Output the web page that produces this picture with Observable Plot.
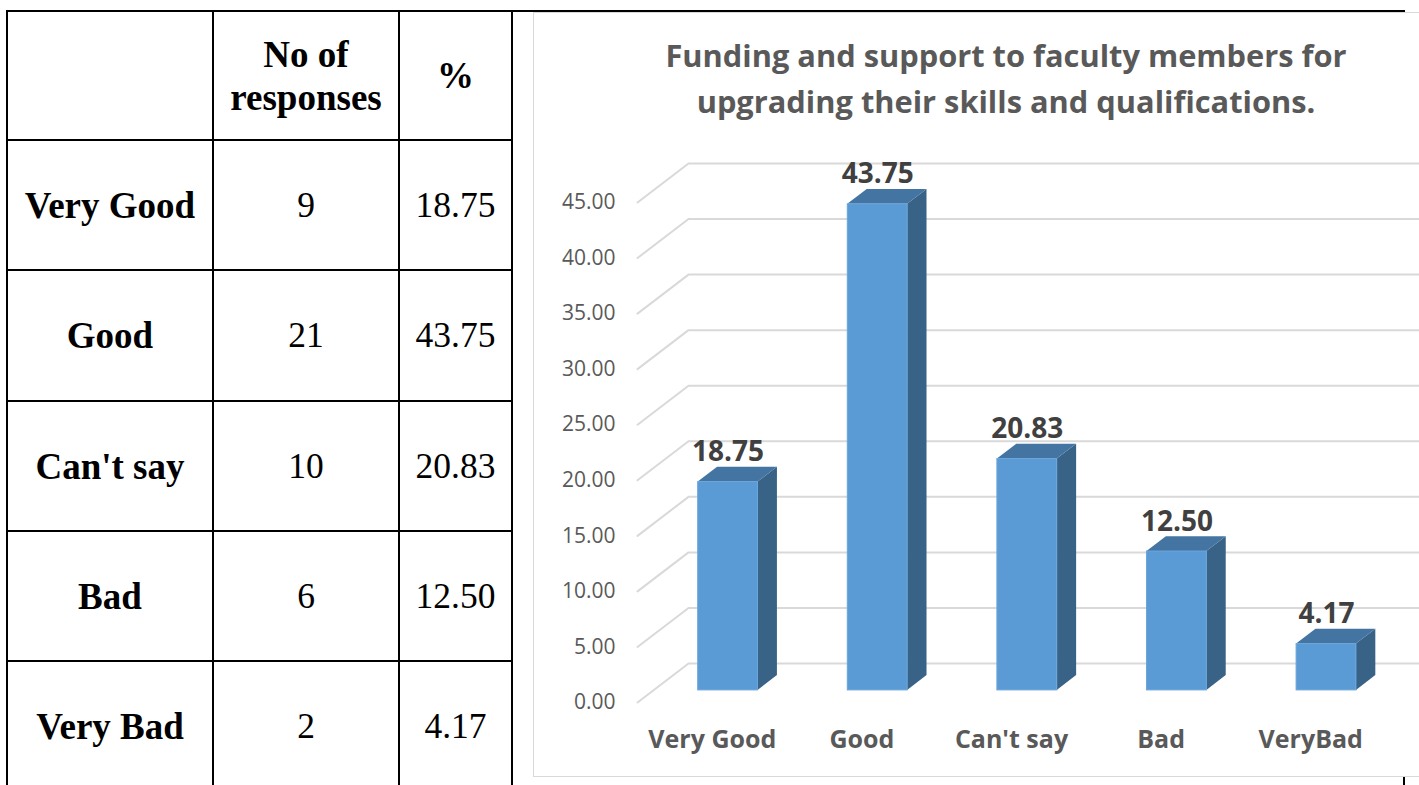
<!DOCTYPE html>
<html>
<head>
<meta charset="utf-8">
<script src="https://cdn.jsdelivr.net/npm/d3@7"></script>
<script src="https://cdn.jsdelivr.net/npm/@observablehq/plot@0.6"></script>
<style>
  html, body { margin: 0; padding: 0; background: #fff; }
  body { width: 1419px; height: 785px; overflow: hidden; position: relative; }
  .cell { position: absolute; box-sizing: border-box; border: 2px solid #000;
          display: flex; align-items: center; justify-content: center; text-align: center;
          font-family: "Liberation Serif", "Times New Roman", serif; font-size: 35.5px; color: #000; line-height: 43px; }
  .cell.b { font-weight: bold; font-size: 37px; }
  #chart { position: absolute; left: 533px; top: 12px; width: 946px; height: 765px;
           box-sizing: border-box; border: 1px solid #d9d9d9; background: #fff; }
  #title { height: 139px; box-sizing: border-box; padding-top: 19px; text-align: center;
           font-family: "Open Sans", sans-serif; font-weight: bold; font-size: 30.8px; line-height: 46px; color: #595959; }
  #plot svg { display: block; }
</style>
</head>
<body>
<div id="table"></div>
<div id="chart">
  <div id="title">Funding and support to faculty members for<br>upgrading their skills and qualifications.</div>
  <div id="plot"></div>
</div>
<script>
// ---- data ----
const tableLabels = ["Very Good", "Good", "Can't say", "Bad", "Very Bad"];
const responses = [9, 21, 10, 6, 2];
const percents = [18.75, 43.75, 20.83, 12.50, 4.17];
const categories = ["Very Good", "Good", "Can't say", "Bad", "VeryBad"];
const yTicks = [0, 5, 10, 15, 20, 25, 30, 35, 40, 45];
const headers = ["", "No of<br>responses", "%"];

// ---- table ----
const colX = [7, 213, 399, 512, 1404];
const rowY = [11, 140, 270, 401, 531, 661, 791];
const tbl = document.getElementById("table");
function cell(c0, c1, r0, r1, html, bold) {
  const d = document.createElement("div");
  d.className = "cell" + (bold ? " b" : "");
  d.style.left = (colX[c0] - 1) + "px";
  d.style.top = (rowY[r0] - 1) + "px";
  d.style.width = (colX[c1] - colX[c0] + 2) + "px";
  d.style.height = (rowY[r1] - rowY[r0] + 2) + "px";
  d.innerHTML = html;
  tbl.appendChild(d);
}
headers.forEach((h, j) => cell(j, j + 1, 0, 1, h, true));
tableLabels.forEach((lab, i) => {
  cell(0, 1, i + 1, i + 2, lab, true);
  cell(1, 2, i + 1, i + 2, String(responses[i]), false);
  cell(2, 3, i + 1, i + 2, percents[i].toFixed(2), false);
});
cell(3, 4, 0, 6, "", false);

// ---- 3D projection constants (depth offsets in scale units) ----
const DX = 0.341, DY = 3.51, Z0 = 0.31, Z1 = 0.69, HW = 0.2;
const bars = percents.map((v, i) => ({ i, v }));
const front = bars.map(d => ({ x1: d.i - HW + DX * Z0, x2: d.i + HW + DX * Z0, y1: DY * Z0, y2: d.v + DY * Z0 }));
const side = bars.flatMap(d => [
  { k: d.i, x: d.i + HW + DX * Z0, y1: DY * Z0, y2: d.v + DY * Z0 },
  { k: d.i, x: d.i + HW + DX * Z1, y1: DY * Z1, y2: d.v + DY * Z1 }
]);
const topFace = bars.flatMap(d => [
  { k: d.i, y: d.v + DY * Z0, x1: d.i - HW + DX * Z0, x2: d.i + HW + DX * Z0 },
  { k: d.i, y: d.v + DY * Z1, x1: d.i - HW + DX * Z1, x2: d.i + HW + DX * Z1 }
]);
const labels = bars.map(d => ({ x: d.i + DX * Z0, y: d.v + DY * Z1, t: d.v.toFixed(2) }));
const x0 = -0.5, xN = categories.length - 0.5;
const grid = yTicks.flatMap(g => [
  { g, x: x0, y: g },
  { g, x: x0 + DX, y: g + DY },
  { g, x: xN + DX, y: g + DY }
]);

const chart = Plot.plot({
  width: 944,
  height: 624,
  marginLeft: 103,
  marginRight: 93,
  marginTop: 50,
  marginBottom: 74,
  x: { domain: [x0, xN], axis: null },
  y: { domain: [0, 45], axis: null },
  style: { fontFamily: "Open Sans, sans-serif", background: "transparent", overflow: "visible" },
  marks: [
    Plot.line(grid, { x: "x", y: "y", z: "g", stroke: "#d9d9d9", strokeWidth: 2 }),
    Plot.axisY({ ticks: yTicks, tickSize: 0, tickPadding: 22, tickFormat: d3.format(".2f"),
                 fontSize: 21, color: "#595959" }),
    Plot.axisX({ ticks: categories.map((c, i) => i), tickSize: 0, tickPadding: 28,
                 tickFormat: i => categories[i], fontSize: 25, fontWeight: "bold", color: "#595959" }),
    Plot.areaY(side, { x: "x", y1: "y1", y2: "y2", z: "k", fill: "#396287" }),
    Plot.areaX(topFace, { y: "y", x1: "x1", x2: "x2", z: "k", fill: "#4474a1" }),
    Plot.rect(front, { x1: "x1", x2: "x2", y1: "y1", y2: "y2", fill: "#5b9bd5", stroke: "#6aa6dc", strokeWidth: 1 }),
    Plot.text(labels, { x: "x", y: "y", text: "t", dy: -6, lineAnchor: "bottom",
                        fontSize: 28, fontWeight: "bold", fill: "#404040" })
  ]
});
document.getElementById("plot").appendChild(chart);
</script>
</body>
</html>
